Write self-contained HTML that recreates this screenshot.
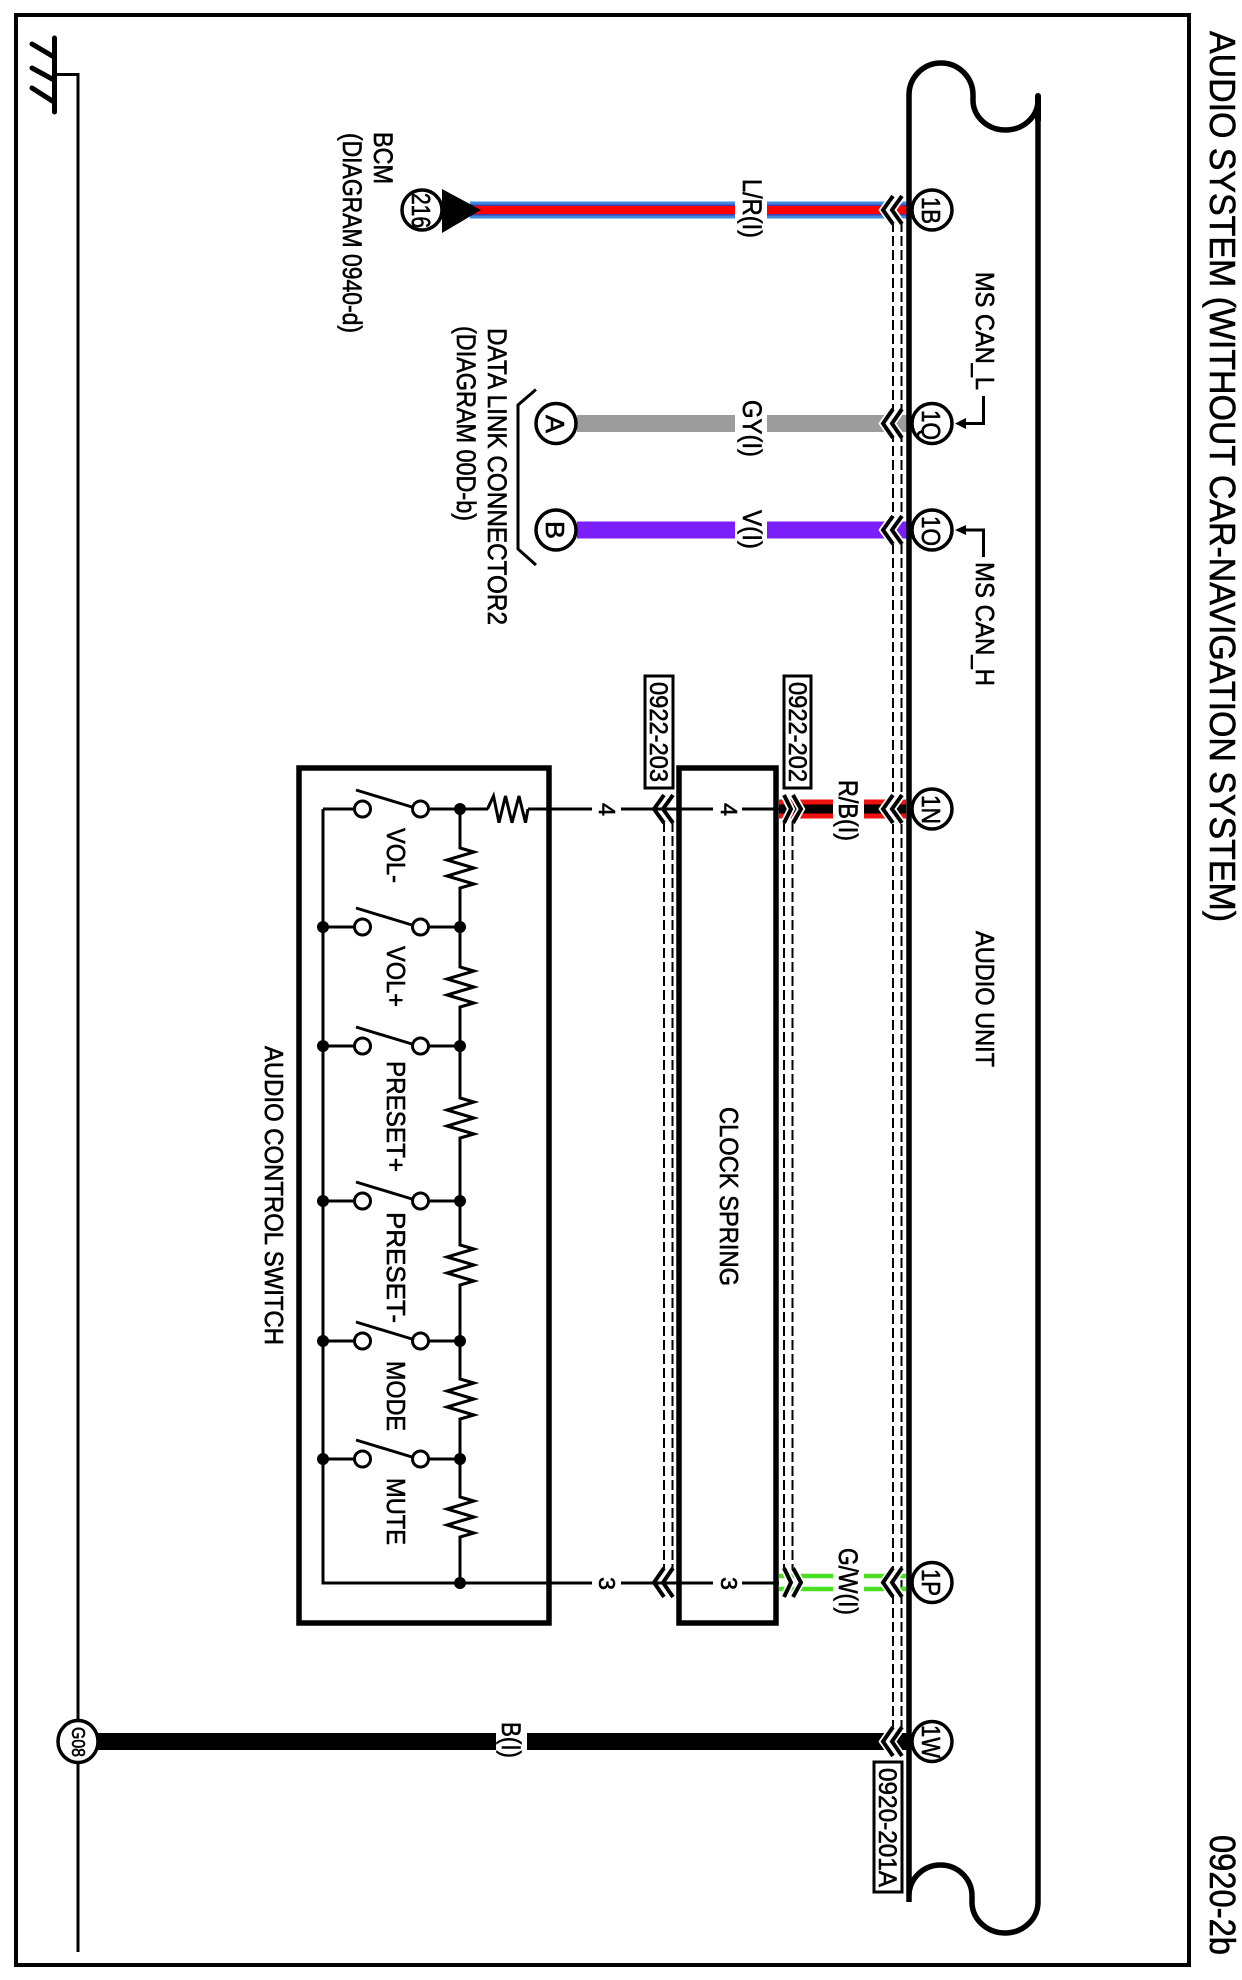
<!DOCTYPE html>
<html><head><meta charset="utf-8"><style>
html,body{margin:0;padding:0;background:#fff}
svg{display:block}
text{font-family:"Liberation Sans",sans-serif;fill:#000;stroke:#000;stroke-width:.6}
</style></head><body>
<svg width="1242" height="1980" viewBox="0 0 1242 1980" xmlns="http://www.w3.org/2000/svg">
<rect width="1242" height="1980" fill="#fff"/>
<!-- frame -->
<rect x="16" y="15" width="1173" height="1950" fill="none" stroke="#000" stroke-width="4"/>
<!-- ground -->
<g fill="none" stroke="#000" stroke-linecap="round">
<path d="M54.5 38V112M32 44L54 57M32 68L54 80M32 88L54 102" stroke-width="5"/>
<path d="M56 74.500H78V1952" stroke-width="3" stroke-linecap="butt"/>
</g>
<!-- dashed harness lines -->
<g fill="none" stroke="#000" stroke-width="2" stroke-dasharray="10 4">
<path d="M893 222V1728M901.500 222V1728"/>
<path d="M784 822V1570M792.500 822V1570"/>
<path d="M664 822V1570M672.500 822V1570"/>
</g>
<!-- wires -->
<g fill="none">
<path d="M470 210H735M767 210H909" stroke="#3a8ae0" stroke-width="17"/>
<path d="M470 210H735M767 210H909" stroke="#4a3aa8" stroke-width="11"/>
<path d="M470 210H735M767 210H909" stroke="#f00" stroke-width="8"/>
<path d="M577 423.500H735M767 423.500H909" stroke="#9c9c9c" stroke-width="17"/>
<path d="M577 530H735M767 530H909" stroke="#7a1ffa" stroke-width="17"/>
<path d="M779 809H833M864 809H906" stroke="#f01010" stroke-width="19"/>
<path d="M779 809H833M864 809H906" stroke="#000" stroke-width="9"/>
<path d="M779 1576H833M864 1576H906M779 1589H833M864 1589H906" stroke="#48e020" stroke-width="4.500"/>
<path d="M95 1741.500H496M527 1741.500H909" stroke="#000" stroke-width="17"/>
</g>
<!-- chevrons: white halo + black -->
<g fill="none" stroke="#fff" stroke-width="7.500">
<path d="M893 196L883 210L893 224M902 196L892 210L902 224"/>
<path d="M893 409L883 423.500L893 438M902 409L892 423.500L902 438"/>
<path d="M893 516L883 530L893 544M902 516L892 530L902 544"/>
<path d="M893 795L883 809L893 823M902 795L892 809L902 823"/>
<path d="M893 1568L883 1582.500L893 1597M902 1568L892 1582.500L902 1597"/>
<path d="M893 1727L883 1741.500L893 1756M902 1727L892 1741.500L902 1756"/>
<path d="M784 795L791 809L784 823M793 795L801 809L793 823"/>
<path d="M784 1568L791 1582.500L784 1597M793 1568L801 1582.500L793 1597"/>
<path d="M664 795L654 809L664 823M673 795L663 809L673 823"/>
<path d="M664 1568L654 1582.500L664 1597M673 1568L663 1582.500L673 1597"/>
</g>
<!-- unit outline -->
<path d="M909 1902V95A32 32 0 0 1 973 95V100A32.500 30 0 0 0 1038 100V1902A33 31 0 0 1 972 1902V1896A31.500 31 0 0 0 909 1896" fill="none" stroke="#000" stroke-width="5.500"/>
<path d="M1038 96V120" stroke="#000" stroke-width="6" stroke-linecap="round"/>
<g fill="none" stroke="#000" stroke-width="4">
<path d="M893 196L883 210L893 224M902 196L892 210L902 224"/>
<path d="M893 409L883 423.500L893 438M902 409L892 423.500L902 438"/>
<path d="M893 516L883 530L893 544M902 516L892 530L902 544"/>
<path d="M893 795L883 809L893 823M902 795L892 809L902 823"/>
<path d="M893 1568L883 1582.500L893 1597M902 1568L892 1582.500L902 1597"/>
<path d="M893 1727L883 1741.500L893 1756M902 1727L892 1741.500L902 1756"/>
<path d="M784 795L791 809L784 823M793 795L801 809L793 823"/>
<path d="M784 1568L791 1582.500L784 1597M793 1568L801 1582.500L793 1597"/>
<path d="M664 795L654 809L664 823M673 795L663 809L673 823"/>
<path d="M664 1568L654 1582.500L664 1597M673 1568L663 1582.500L673 1597"/>
</g>
<!-- boxes -->
<rect x="299" y="768" width="250" height="855" fill="none" stroke="#000" stroke-width="5.500"/>
<rect x="679" y="768" width="97" height="855" fill="none" stroke="#000" stroke-width="5.500"/>
<!-- signal lines -->
<path d="M323 809H354M429 809H488M528 809H592M621 809H713M742 809H779" fill="none" stroke="#000" stroke-width="3"/>
<path d="M323 809V1583H592M621 1583H713M742 1583H779" fill="none" stroke="#000" stroke-width="3"/>
<path d="M487.500 809L493.500 796L499 822.700L505.500 796L512 822.700L519 796L525.500 822.700L528 809" fill="none" stroke="#000" stroke-width="3"/>
<!-- resistors and node rail -->
<path d="M460 809V848L474 852L447 860L474 868L447 876L474 884L460 888V967L474 971L447 979L474 987L447 995L474 1003L460 1007V1098L474 1102L447 1110L474 1118L447 1126L474 1134L460 1138V1245L474 1249L447 1257L474 1265L447 1273L474 1281L460 1285V1379L474 1383L447 1391L474 1399L447 1407L474 1415L460 1419V1497L474 1501L447 1509L474 1517L447 1525L474 1533L460 1537V1583" fill="none" stroke="#000" stroke-width="3"/>
<!-- row wires -->
<path d="M323 927H354M429 927H460M323 1046H354M429 1046H460M323 1201H354M429 1201H460M323 1341H354M429 1341H460M323 1459H354M429 1459H460" fill="none" stroke="#000" stroke-width="3"/>
<!-- switches -->
<g fill="#fff" stroke="#000" stroke-width="3">
<circle cx="362.500" cy="809" r="8"/><circle cx="420.500" cy="809" r="8"/>
<circle cx="362.500" cy="927" r="8"/><circle cx="420.500" cy="927" r="8"/>
<circle cx="362.500" cy="1046" r="8"/><circle cx="420.500" cy="1046" r="8"/>
<circle cx="362.500" cy="1201" r="8"/><circle cx="420.500" cy="1201" r="8"/>
<circle cx="362.500" cy="1341" r="8"/><circle cx="420.500" cy="1341" r="8"/>
<circle cx="362.500" cy="1459" r="8"/><circle cx="420.500" cy="1459" r="8"/>
</g>
<path d="M356 790L412 807M356 908L412 925M356 1027L412 1044M356 1182L412 1199M356 1322L412 1339M356 1440L412 1457" fill="none" stroke="#000" stroke-width="3"/>
<!-- dots -->
<g fill="#000">
<circle cx="460" cy="809" r="6"/><circle cx="460" cy="927" r="6"/><circle cx="460" cy="1046" r="6"/><circle cx="460" cy="1201" r="6"/><circle cx="460" cy="1341" r="6"/><circle cx="460" cy="1459" r="6"/><circle cx="460" cy="1583" r="6"/>
<circle cx="323" cy="927" r="6"/><circle cx="323" cy="1046" r="6"/><circle cx="323" cy="1201" r="6"/><circle cx="323" cy="1341" r="6"/><circle cx="323" cy="1459" r="6"/>
</g>
<!-- BCM arrow -->
<path d="M442 189L481 210L442 233Z" fill="#000"/>
<!-- bracket -->
<path d="M536 389.500L518 405V549L536 565" fill="none" stroke="#000" stroke-width="3"/>
<!-- leaders -->
<path d="M965 423.500H983.500V396M965 530H983.500V557" fill="none" stroke="#000" stroke-width="3"/>
<path d="M955 423.500L966 418V429ZM955 530L966 525V535Z" fill="#000"/>
<!-- pin circles -->
<g fill="#fff" stroke="#000" stroke-width="3.500">
<circle cx="932" cy="210" r="20"/><circle cx="932" cy="423.500" r="20"/><circle cx="932" cy="530" r="20"/><circle cx="932" cy="809" r="20"/><circle cx="932" cy="1582.500" r="20"/><circle cx="932" cy="1741.500" r="20"/>
<circle cx="422" cy="210" r="20"/><circle cx="556" cy="423.500" r="20"/><circle cx="556" cy="530" r="20"/>
<ellipse cx="78" cy="1741.500" rx="20" ry="21"/>
</g>
<!-- ref boxes -->
<g fill="#fff" stroke="#000" stroke-width="3">
<rect x="645" y="676" width="28" height="112"/>
<rect x="784" y="676" width="27" height="112"/>
<rect x="874" y="1762" width="28" height="130"/>
</g>
<!-- text -->
<g>
<text transform="translate(1210,31) rotate(90)" font-size="36" textLength="891" lengthAdjust="spacingAndGlyphs">AUDIO SYSTEM (WITHOUT CAR-NAVIGATION SYSTEM)</text>
<text transform="translate(1210,1835) rotate(90)" font-size="36" textLength="120" lengthAdjust="spacingAndGlyphs">0920-2b</text>
<text transform="translate(976,272) rotate(90)" font-size="26" textLength="118" lengthAdjust="spacingAndGlyphs">MS CAN_L</text>
<text transform="translate(976,562) rotate(90)" font-size="26" textLength="124" lengthAdjust="spacingAndGlyphs">MS CAN_H</text>
<text transform="translate(976,931) rotate(90)" font-size="26" textLength="136" lengthAdjust="spacingAndGlyphs">AUDIO UNIT</text>
<text transform="translate(720,1107) rotate(90)" font-size="26" textLength="179" lengthAdjust="spacingAndGlyphs">CLOCK SPRING</text>
<text transform="translate(265,1046) rotate(90)" font-size="26" textLength="299" lengthAdjust="spacingAndGlyphs">AUDIO CONTROL SWITCH</text>
<text transform="translate(374,132) rotate(90)" font-size="27" textLength="52" lengthAdjust="spacingAndGlyphs">BCM</text>
<text transform="translate(343,133) rotate(90)" font-size="27" textLength="200" lengthAdjust="spacingAndGlyphs">(DIAGRAM 0940-d)</text>
<text transform="translate(488,328) rotate(90)" font-size="27" textLength="297" lengthAdjust="spacingAndGlyphs">DATA LINK CONNECTOR2</text>
<text transform="translate(457,326) rotate(90)" font-size="27" textLength="195" lengthAdjust="spacingAndGlyphs">(DIAGRAM 00D-b)</text>
<text transform="translate(743,179) rotate(90)" font-size="27" textLength="59" lengthAdjust="spacingAndGlyphs">L/R(I)</text>
<text transform="translate(743,400) rotate(90)" font-size="27" textLength="57" lengthAdjust="spacingAndGlyphs">GY(I)</text>
<text transform="translate(743,510) rotate(90)" font-size="27" textLength="39" lengthAdjust="spacingAndGlyphs">V(I)</text>
<text transform="translate(839,780) rotate(90)" font-size="27" textLength="61" lengthAdjust="spacingAndGlyphs">R/B(I)</text>
<text transform="translate(839,1548) rotate(90)" font-size="27" textLength="67" lengthAdjust="spacingAndGlyphs">G/W(I)</text>
<text transform="translate(502,1722) rotate(90)" font-size="27" textLength="36" lengthAdjust="spacingAndGlyphs">B(I)</text>
<text transform="translate(387,828) rotate(90)" font-size="26" textLength="55" lengthAdjust="spacingAndGlyphs">VOL-</text>
<text transform="translate(387,946) rotate(90)" font-size="26" textLength="61" lengthAdjust="spacingAndGlyphs">VOL+</text>
<text transform="translate(387,1061) rotate(90)" font-size="26" textLength="111" lengthAdjust="spacingAndGlyphs">PRESET+</text>
<text transform="translate(387,1212) rotate(90)" font-size="26" textLength="111" lengthAdjust="spacingAndGlyphs">PRESET-</text>
<text transform="translate(387,1361) rotate(90)" font-size="26" textLength="70" lengthAdjust="spacingAndGlyphs">MODE</text>
<text transform="translate(387,1478) rotate(90)" font-size="26" textLength="67" lengthAdjust="spacingAndGlyphs">MUTE</text>
<text transform="translate(599,803) rotate(90)" font-size="23" textLength="13" lengthAdjust="spacingAndGlyphs">4</text>
<text transform="translate(721,803) rotate(90)" font-size="23" textLength="13" lengthAdjust="spacingAndGlyphs">4</text>
<text transform="translate(599,1577) rotate(90)" font-size="23" textLength="13" lengthAdjust="spacingAndGlyphs">3</text>
<text transform="translate(721,1577) rotate(90)" font-size="23" textLength="13" lengthAdjust="spacingAndGlyphs">3</text>
<text transform="translate(650,682) rotate(90)" font-size="25" textLength="100" lengthAdjust="spacingAndGlyphs">0922-203</text>
<text transform="translate(789,682) rotate(90)" font-size="25" textLength="100" lengthAdjust="spacingAndGlyphs">0922-202</text>
<text transform="translate(879,1768) rotate(90)" font-size="25" textLength="119" lengthAdjust="spacingAndGlyphs">0920-201A</text>
<text transform="translate(922,197) rotate(90)" font-size="26" textLength="27" lengthAdjust="spacingAndGlyphs">1B</text>
<text transform="translate(922,410) rotate(90)" font-size="26" textLength="30" lengthAdjust="spacingAndGlyphs">1Q</text>
<text transform="translate(922,516) rotate(90)" font-size="26" textLength="30" lengthAdjust="spacingAndGlyphs">1O</text>
<text transform="translate(922,795) rotate(90)" font-size="26" textLength="29" lengthAdjust="spacingAndGlyphs">1N</text>
<text transform="translate(922,1569) rotate(90)" font-size="26" textLength="27" lengthAdjust="spacingAndGlyphs">1P</text>
<text transform="translate(922,1725) rotate(90)" font-size="26" textLength="33" lengthAdjust="spacingAndGlyphs">1W</text>
<text transform="translate(412,193) rotate(90)" font-size="26" textLength="35" lengthAdjust="spacingAndGlyphs">216</text>
<text transform="translate(546,415) rotate(90)" font-size="26" textLength="18" lengthAdjust="spacingAndGlyphs">A</text>
<text transform="translate(546,521) rotate(90)" font-size="26" textLength="18" lengthAdjust="spacingAndGlyphs">B</text>
<text transform="translate(72,1727) rotate(90)" font-size="18" textLength="30" lengthAdjust="spacingAndGlyphs">G08</text>
</g>
</svg>
</body></html>
